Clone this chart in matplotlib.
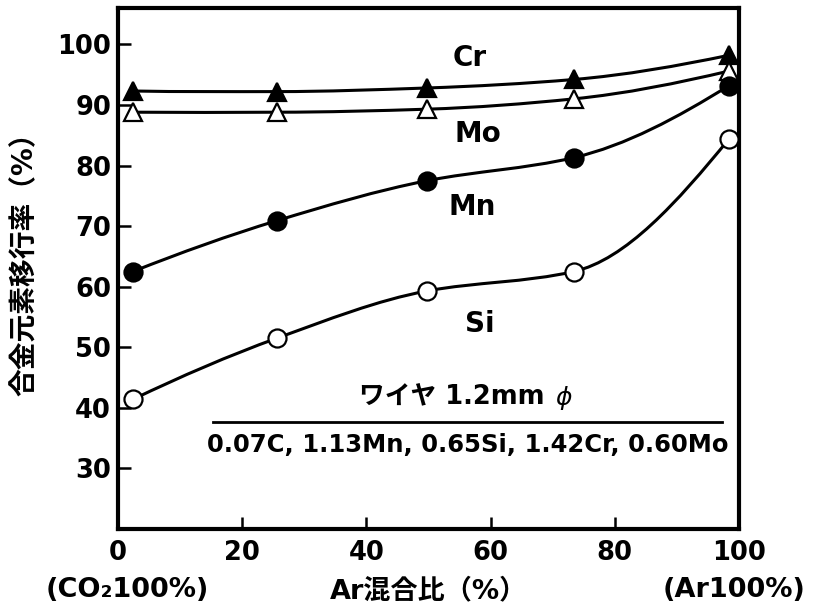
import matplotlib
matplotlib.use('Agg')
import matplotlib.pyplot as plt
import numpy as np
from matplotlib.path import Path
from matplotlib.patches import PathPatch

# Ar mixing ratio (%) at which each element was measured
x_pts = [2.4, 25.6, 49.8, 73.4, 98.4]
cr = [92.3, 92.2, 92.8, 94.2, 98.2]
mo = [88.8, 88.8, 89.3, 91.0, 95.6]
mn = [62.5, 70.9, 77.5, 81.3, 93.2]
si = [41.4, 51.5, 59.3, 62.5, 84.4]

xticks = [0, 20, 40, 60, 80, 100]
yticks = [30, 40, 50, 60, 70, 80, 90, 100]

LAT = ['DejaVu Sans', 'Noto Sans CJK JP']


def smooth_path(xs, ys):
    # pchip-style tangents, drawn as bezier segments
    x = np.asarray(xs, float)
    y = np.asarray(ys, float)
    h = np.diff(x)
    d = np.diff(y) / h
    m = np.zeros_like(y)
    for k in range(1, len(x) - 1):
        if d[k - 1] * d[k] > 0:
            w1 = 2 * h[k] + h[k - 1]
            w2 = h[k] + 2 * h[k - 1]
            m[k] = (w1 + w2) / (w1 / d[k - 1] + w2 / d[k])
    m[0] = ((2 * h[0] + h[1]) * d[0] - h[0] * d[1]) / (h[0] + h[1])
    m[-1] = ((2 * h[-1] + h[-2]) * d[-1] - h[-1] * d[-2]) / (h[-1] + h[-2])
    verts = [(x[0], y[0])]
    codes = [Path.MOVETO]
    for k in range(len(x) - 1):
        verts += [(x[k] + h[k] / 3, y[k] + m[k] * h[k] / 3),
                  (x[k + 1] - h[k] / 3, y[k + 1] - m[k + 1] * h[k] / 3),
                  (x[k + 1], y[k + 1])]
        codes += [Path.CURVE4] * 3
    return Path(verts, codes)


fig = plt.figure(figsize=(8.14, 6.10), dpi=100)
ax = fig.add_axes([118 / 814, 1 - 529 / 610, (739 - 118) / 814, (529 - 8) / 610])

lw = 2.2
for ys, mk, fc in [(cr, '^', 'black'), (mo, '^', 'white'),
                   (mn, 'o', 'black'), (si, 'o', 'white')]:
    ax.add_patch(PathPatch(smooth_path(x_pts, ys), facecolor='none',
                           edgecolor='black', lw=lw, zorder=2))
    ax.plot(x_pts, ys, linestyle='none', marker=mk, markersize=13,
            markerfacecolor=fc, markeredgecolor='black', markeredgewidth=1.6,
            zorder=3, clip_on=False)

ax.set_xlim(0, 100)
ax.set_ylim(20, 106)
ax.set_xticks(xticks)
ax.set_yticks(yticks)
ax.set_xticklabels([str(t) for t in xticks], fontsize=18.5, fontweight='bold')
ax.set_yticklabels([str(t) for t in yticks], fontsize=18.5, fontweight='bold')
ax.tick_params(axis='both', direction='in', length=9, width=1.8, pad=5)
ax.tick_params(axis='x', pad=8)
for s in ax.spines.values():
    s.set_linewidth(3)
# hide the tick marks at 0 and 100 on x
for t in ax.xaxis.get_major_ticks():
    if t.get_loc() in (0, 100):
        t.tick1line.set_visible(False)

# element labels
ax.text(56.7, 97.8, 'Cr', fontsize=20, fontweight='bold', ha='center', va='center')
ax.text(58.0, 85.2, 'Mo', fontsize=20, fontweight='bold', ha='center', va='center')
ax.text(57.0, 73.2, 'Mn', fontsize=20, fontweight='bold', ha='center', va='center')
ax.text(58.3, 53.8, 'Si', fontsize=20, fontweight='bold', ha='center', va='center')

# wire info
ax.text(53.8, 41.8, 'ワイヤ 1.2mm', fontsize=18.5, fontweight='bold',
        ha='center', va='center', family=LAT)
ax.text(71.8, 41.6, '$\\phi$', fontsize=18, ha='center', va='center')
ax.plot([15.3, 97.3], [37.7, 37.7], color='black', lw=2)
ax.text(56.3, 33.9, '0.07C, 1.13Mn, 0.65Si, 1.42Cr, 0.60Mo', fontsize=17.5,
        fontweight='bold', ha='center', va='center')

ax.set_ylabel('合金元素移行率（%）', fontsize=20, fontweight='bold', family=LAT)
ax.yaxis.set_label_coords(-0.128, 0.522)
ax.set_xlabel('Ar混合比（%）', fontsize=19.5, fontweight='bold', family=LAT, labelpad=9)
ax.text(1.5, -0.118, '(CO₂100%)', transform=ax.get_xaxis_transform(),
        fontsize=19.5, fontweight='bold', ha='center', va='center')
ax.text(99.2, -0.118, '(Ar100%)', transform=ax.get_xaxis_transform(),
        fontsize=19.5, fontweight='bold', ha='center', va='center')

fig.savefig('out.png', dpi=100)
